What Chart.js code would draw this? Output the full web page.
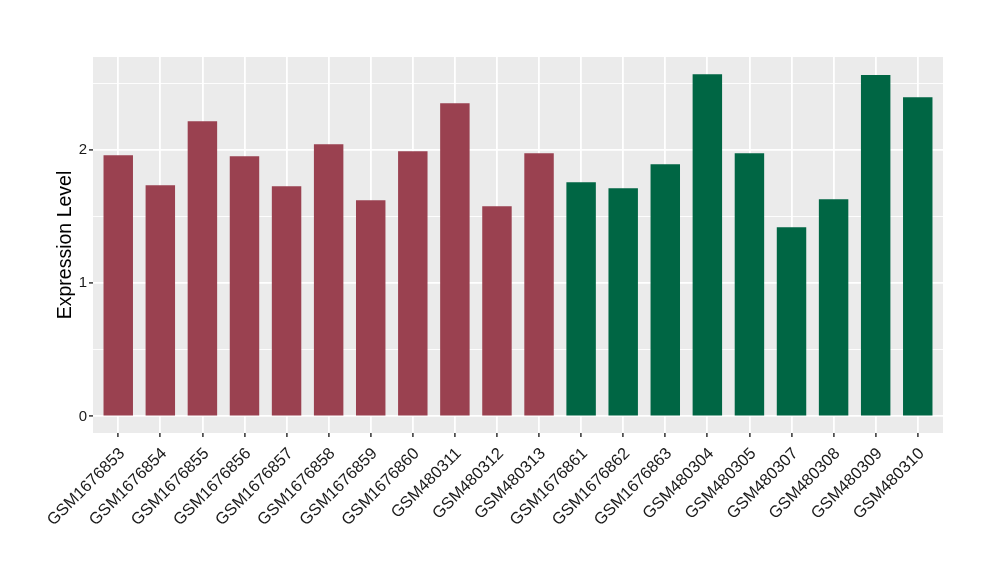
<!DOCTYPE html>
<html><head><meta charset="utf-8">
<script src="https://cdn.jsdelivr.net/npm/chart.js@4"></script>
<style>html,body{margin:0;padding:0;background:#fff;}#wrap{width:1000px;height:580px;}</style>
</head><body><div id="wrap"><canvas id="c" width="1000" height="580"></canvas></div>
<script>
const categories = ["GSM1676853","GSM1676854","GSM1676855","GSM1676856","GSM1676857","GSM1676858","GSM1676859","GSM1676860","GSM480311","GSM480312","GSM480313","GSM1676861","GSM1676862","GSM1676863","GSM480304","GSM480305","GSM480307","GSM480308","GSM480309","GSM480310"];
const values = [1.962,1.737,2.218,1.955,1.729,2.045,1.624,1.992,2.353,1.579,1.977,1.759,1.714,1.895,2.571,1.977,1.421,1.632,2.564,2.398];
const groups = ["A","A","A","A","A","A","A","A","A","A","A","B","B","B","B","B","B","B","B","B"];
const groupColors = {A:"#9A4150", B:"#006644"};
const yTicks = [0,0.5,1,1.5,2,2.5];
const yLabelTicks = [0,1,2];

const FONT = "'Liberation Sans', Arial, Helvetica, sans-serif";
const bgPlugin = {
  id:'panelbg',
  beforeDraw(chart){
    const a = chart.chartArea, ctx = chart.ctx;
    ctx.save(); ctx.fillStyle = '#EBEBEB';
    ctx.fillRect(a.left, a.top, a.right-a.left, a.bottom-a.top);
    ctx.restore();
  }
};
new Chart(document.getElementById('c'), {
  type:'bar',
  data:{
    datasets:[{
      data: values.map((v,i)=>({x:i,y:v})),
      backgroundColor: groups.map(g=>groupColors[g]),
      barPercentage:0.7, categoryPercentage:1.0
    }]
  },
  plugins:[bgPlugin],
  options:{
    responsive:false, animation:false,
    layout:{padding:{left:44,top:57,right:57,bottom:0}},
    plugins:{legend:{display:false}, tooltip:{enabled:false}},
    scales:{
      x:{
        type:'linear', min:-0.6, max:19.6, offset:false,
        afterBuildTicks(s){ s.ticks = categories.map((c,i)=>({value:i})); },
        afterFit(s){ s.height = 580-433; },
        border:{display:false},
        grid:{offset:false, color:'#FFFFFF', lineWidth:1.8, tickColor:'#333333', tickWidth:1.5, tickLength:4},
        ticks:{
          autoSkip:false, minRotation:45, maxRotation:45, padding:7, labelOffset:4,
          color:'#1a1a1a', font:{family:FONT, size:16.5},
          callback:(v)=>categories[v]
        }
      },
      y:{
        min:-0.125, max:2.70,
        afterBuildTicks(s){ s.ticks = yTicks.map(v=>({value:v})); },
        afterFit(s){ s.width = 93-44; },
        border:{display:false},
        grid:{
          color:'#FFFFFF',
          lineWidth:(c)=> (c.tick && yLabelTicks.includes(c.tick.value)) ? 1.8 : 0.9,
          tickColor:(c)=> (c.tick && yLabelTicks.includes(c.tick.value)) ? '#333333' : 'rgba(0,0,0,0)',
          tickWidth:1.5, tickLength:4
        },
        ticks:{
          padding:2, color:'#1a1a1a', font:{family:FONT, size:15},
          callback:(v)=> yLabelTicks.includes(v) ? String(v) : ''
        },
        title:{display:true, text:'Expression Level', color:'#000', font:{family:FONT, size:19.5}, padding:{top:10,bottom:0}}
      }
    }
  }
});
</script></body></html>
